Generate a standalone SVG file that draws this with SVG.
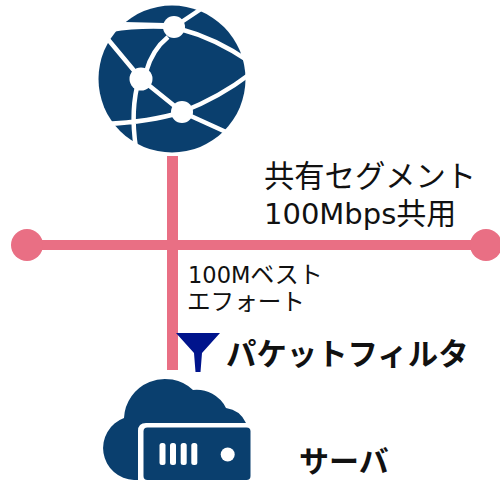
<svg xmlns="http://www.w3.org/2000/svg" width="500" height="480" viewBox="0 0 500 480">
<style>
.t{font-family:"Noto Sans CJK JP","Noto Sans",sans-serif;fill:#111}
.r{font-family:"DejaVu Sans","Noto Sans CJK JP",sans-serif;fill:#111}
.l{fill:none;stroke:#fff;stroke-width:4.500;stroke-linecap:butt}
.w{fill:#fff}
.n{fill:#0a3f6e}
</style>
<rect width="500" height="480" fill="#fff"/>
<g id="connectors" fill="#e96f84">
<rect x="167" y="156" width="11" height="214"/>
<rect x="26" y="240" width="460" height="10"/>
<circle cx="27" cy="245" r="16"/>
<circle cx="486" cy="245" r="16"/>
</g>
<g id="globe">
<circle class="n" cx="172" cy="79" r="73.500"/>
<path class="w" d="M165 23L125 22L112 32Q135 28 165 29Z"/>
<path class="l" d="M174 27L201 9M168 37Q152 50 146 72M180 29Q215 38 250 62M141 79L106 37M139 79Q130 110 136 148M141 79L182 112M182 112Q220 97 250 74M182 112L226 132M182 112Q150 122 105 124"/>
<circle class="w" cx="174" cy="27" r="11"/>
<circle class="w" cx="141" cy="79" r="11.500"/>
<circle class="w" cx="182" cy="112" r="11"/>
</g>
<g id="filter">
<path d="M176 333H220L202 353L200.500 372H195.500L194 353Z" fill="#00148c"/>
</g>
<g id="server">
<path class="n" d="M124 418A41 41 0 0 1 193 390A33 33 0 0 1 226 408A26 26 0 0 1 246 423H146Q138 423 138 431V480H134A32 32 0 0 1 124 418Z"/>
<rect class="n" x="143.500" y="427.500" width="107" height="52.500" rx="4"/>
<rect class="w" x="159.500" y="443" width="6" height="22" rx="2.500"/>
<rect class="w" x="170" y="443" width="6" height="22" rx="2.500"/>
<rect class="w" x="180.700" y="443" width="6" height="22" rx="2.500"/>
<rect class="w" x="191.300" y="443" width="6" height="22" rx="2.500"/>
<circle class="w" cx="227.700" cy="454.500" r="7"/>
</g>
<g id="labels">
<text class="t" x="264" y="186.500" font-size="30.300">共有セグメント</text>
<text class="r" x="264" y="224" font-size="29">100Mbps<tspan class="t" font-size="30">共用</tspan></text>
<text class="r" x="188" y="282.500" font-size="22.500">100M<tspan class="t" font-size="24">ベスト</tspan></text>
<text class="t" x="187" y="310" font-size="23.600">エフォート</text>
<text class="t" x="226" y="365" font-size="30.400" font-weight="700">パケットフィルタ</text>
<text class="t" x="299" y="472" font-size="30" font-weight="700">サーバ</text>
</g>
</svg>
